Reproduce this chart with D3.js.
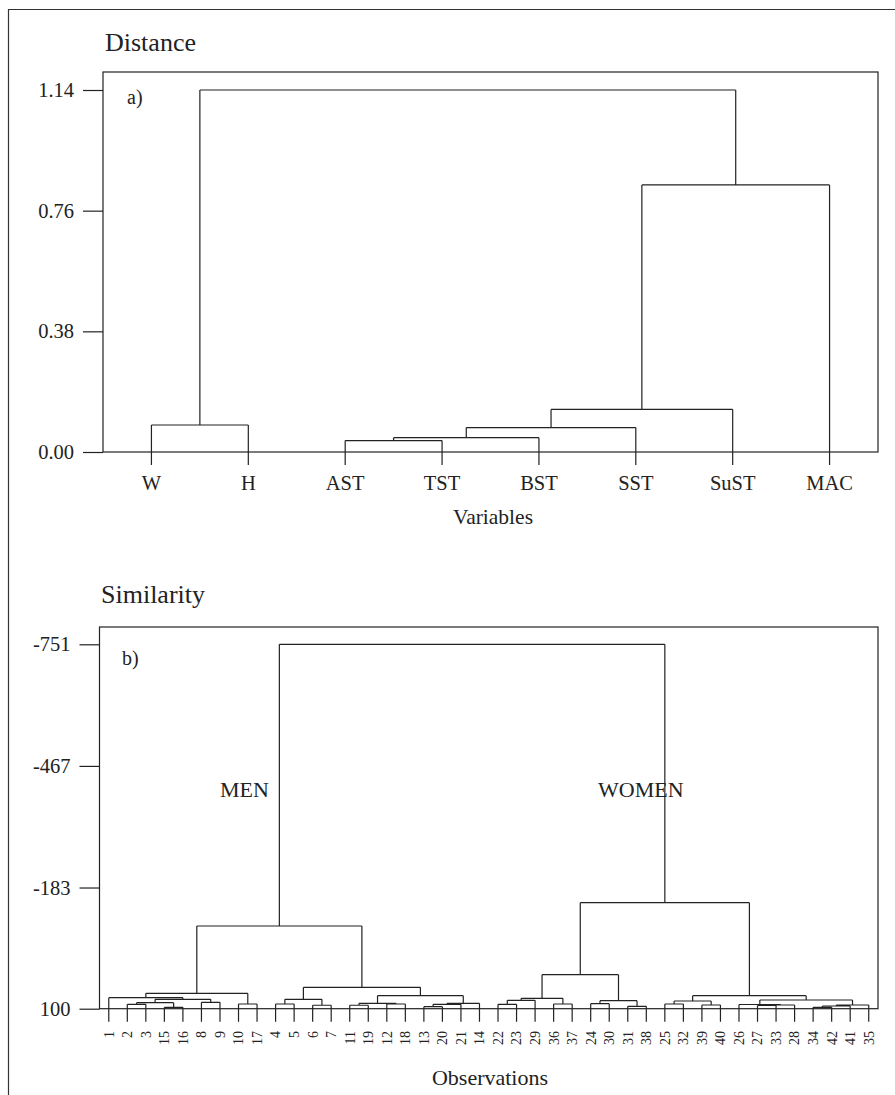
<!DOCTYPE html>
<html>
<head>
<meta charset="utf-8">
<script src="https://cdn.jsdelivr.net/npm/d3@7"></script>
<style>
  html, body { margin: 0; padding: 0; background: #fff; }
  svg text { font-family: "Liberation Serif", "Times New Roman", serif; fill: #222; }
</style>
</head>
<body>
<svg id="chart" width="895" height="1095"></svg>
<script>
// ---------------- DATA ----------------
// Panel a) : variables
const varLeaves = ["W", "H", "AST", "TST", "BST", "SST", "SuST", "MAC"];
// merges: [childA, childB, distance]; "cK" = K-th merge
const varMerges = [
  ["W", "H", 0.085],      // c0
  ["AST", "TST", 0.036],  // c1
  ["c1", "BST", 0.045],   // c2
  ["c2", "SST", 0.077],   // c3
  ["c3", "SuST", 0.134],  // c4
  ["c4", "MAC", 0.841],   // c5
  ["c0", "c5", 1.14]      // c6
];
const varTicks = [0.00, 0.38, 0.76, 1.14];

// Panel b) : observations
const obsLeaves = ["1","2","3","15","16","8","9","10","17","4","5","6","7","11","19","12","18","13","20","21","14",
                   "22","23","29","36","37","24","30","31","38","25","32","39","40","26","27","33","28","34","42","41","35"];
const obsMerges = [
  ["15", "16", 96.7],   // c0
  ["2", "3", 89.7],     // c1
  ["c1", "c0", 86],     // c2
  ["8", "9", 85],       // c3
  ["c2", "c3", 78],     // c4
  ["1", "c4", 74.3],    // c5
  ["10", "17", 89],     // c6
  ["c5", "c6", 64],     // c7
  ["4", "5", 89],       // c8
  ["6", "7", 92],       // c9
  ["c8", "c9", 78],     // c10
  ["11", "19", 92],     // c11
  ["12", "18", 89],     // c12
  ["c11", "c12", 87.4], // c13
  ["13", "20", 95.3],   // c14
  ["c14", "21", 89.7],  // c15
  ["c15", "14", 87.4],  // c16
  ["c13", "c16", 69.6], // c17
  ["c10", "c17", 50],   // c18
  ["c7", "c18", -93.1], // c19 MEN
  ["22", "23", 89.7],   // c20
  ["c20", "29", 80.4],  // c21
  ["36", "37", 89],     // c22
  ["c21", "c22", 75.7], // c23
  ["24", "30", 88.3],   // c24
  ["31", "38", 94.4],   // c25
  ["c24", "c25", 81.3], // c26
  ["c23", "c26", 20.6], // c27
  ["25", "32", 89],     // c28
  ["39", "40", 91.4],   // c29
  ["c28", "c29", 82],   // c30
  ["27", "33", 92.5],   // c31
  ["c31", "28", 91.4],  // c32
  ["26", "c32", 90.2],  // c33
  ["34", "42", 96.7],   // c34
  ["c34", "41", 93.7],  // c35
  ["c35", "35", 91.4],  // c36
  ["c33", "c36", 79.7], // c37
  ["c30", "c37", 69.6], // c38
  ["c27", "c38", -147.5], // c39 WOMEN
  ["c19", "c39", -751]  // c40 root
];
const obsTicks = [100, -183, -467, -751];
const groupLabels = ["MEN", "WOMEN"];

// ---------------- DRAW ----------------
const svg = d3.select("#chart");
const INK = "#222";
const SERIF = '"Liberation Serif", "Times New Roman", serif';

// outer frame (open on right and bottom)
svg.append("path")
  .attr("d", "M895,9.5 H8.5 V1095")
  .attr("fill", "none").attr("stroke", "#333").attr("stroke-width", 1.2);

function dendro(cfg) {
  const { left, right, top, bottom, leaves, merges, yDomain, ticks, tickFmt, leafTick, leafLabel } = cfg;
  const g = svg.append("g");
  const x = d3.scaleBand().domain(leaves).range([left, right]).padding(0);
  const y = d3.scaleLinear().domain(yDomain).range([bottom, cfg.topValueY]);

  // frame
  g.append("rect").attr("x", left).attr("y", top)
    .attr("width", right - left).attr("height", bottom - top)
    .attr("fill", "none").attr("stroke", INK).attr("stroke-width", 1.2);

  // y axis
  const ax = g.append("g").attr("transform", `translate(${left},0)`)
    .call(d3.axisLeft(y).tickValues(ticks).tickSize(20).tickPadding(9).tickFormat(tickFmt));
  ax.select(".domain").remove();
  ax.selectAll("line").attr("stroke", INK).attr("stroke-width", 1.2);
  ax.selectAll("text").attr("font-family", SERIF).attr("font-size", 20.5).attr("fill", INK);

  // nodes
  const nodes = {};
  leaves.forEach(l => nodes[l] = { x: x(l) + x.bandwidth() / 2, h: null, leaf: true });
  const segs = [];
  merges.forEach((m, i) => {
    const a = nodes[m[0]], b = nodes[m[1]];
    const yh = y(m[2]);
    const node = { x: (a.x + b.x) / 2, h: m[2], leaf: false };
    nodes["c" + i] = node;
    segs.push(`M${Math.min(a.x, b.x)},${yh}H${Math.max(a.x, b.x)}`);
    [a, b].forEach(c => {
      const yc = c.leaf ? bottom + leafTick : y(c.h);
      segs.push(`M${c.x},${yh}V${yc}`);
    });
  });
  g.append("path").attr("d", segs.join(""))
    .attr("fill", "none").attr("stroke", INK).attr("stroke-width", 1.2);

  // leaf labels
  leafLabel(g, x);
  return { g, x, y, nodes };
}

// ---- Panel a ----
svg.append("text").attr("x", 105).attr("y", 51).attr("font-size", 26).text("Distance");
const pa = dendro({
  left: 103, right: 878, top: 72, bottom: 452, topValueY: 90,
  leaves: varLeaves, merges: varMerges, yDomain: [0, 1.14],
  ticks: varTicks, tickFmt: d3.format(".2f"), leafTick: 13,
  leafLabel: (g, x) => {
    g.selectAll("text.leaf").data(varLeaves).join("text").attr("class", "leaf")
      .attr("x", d => x(d) + x.bandwidth() / 2).attr("y", 490)
      .attr("text-anchor", "middle").attr("font-size", 20.5).text(d => d);
  }
});
pa.g.append("text").attr("x", 127).attr("y", 104).attr("font-size", 20).text("a)");
svg.append("text").attr("x", 493).attr("y", 524).attr("text-anchor", "middle")
  .attr("font-size", 21.5).text("Variables");

// ---- Panel b ----
svg.append("text").attr("x", 101).attr("y", 603).attr("font-size", 26).text("Similarity");
const pb = dendro({
  left: 99.5, right: 878, top: 627, bottom: 1008.7, topValueY: 644.3,
  leaves: obsLeaves, merges: obsMerges, yDomain: [100, -751],
  ticks: obsTicks, tickFmt: d => String(d), leafTick: 13,
  leafLabel: (g, x) => {
    g.selectAll("text.leaf").data(obsLeaves).join("text").attr("class", "leaf")
      .attr("transform", d => `translate(${x(d) + x.bandwidth() / 2},1031) rotate(-90)`)
      .attr("dy", "0.35em").attr("text-anchor", "end").attr("font-size", 14).text(d => d);
  }
});
pb.g.append("text").attr("x", 122).attr("y", 665).attr("font-size", 20).text("b)");
pb.g.append("text").attr("x", 220).attr("y", 797).attr("font-size", 22).text(groupLabels[0]);
pb.g.append("text").attr("x", 598).attr("y", 797).attr("font-size", 22).text(groupLabels[1]);
svg.append("text").attr("x", 490).attr("y", 1085).attr("text-anchor", "middle")
  .attr("font-size", 22).text("Observations");
</script>
</body>
</html>
